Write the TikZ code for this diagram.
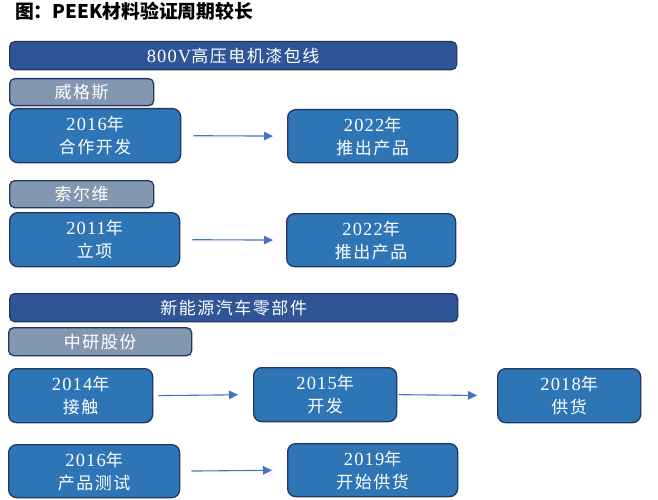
\documentclass[tikz,border=0pt]{standalone}
\usepackage{fontspec}
\setmainfont{Liberation Serif}
\newfontfamily\latf[LetterSpace=6]{Liberation Serif}
\newfontfamily\cjk[LetterSpace=9]{Noto Sans CJK SC}
\newfontfamily\cjktitle{Noto Sans CJK SC}
\usetikzlibrary{arrows.meta}
\definecolor{barblue}{HTML}{2F5597}
\definecolor{grayblue}{HTML}{8497B0}
\definecolor{boxblue}{HTML}{2E75B6}
\definecolor{edgeblue}{HTML}{1F3864}
\definecolor{arrowblue}{HTML}{4472C4}
\newcommand\lat[1]{{\latf\fontsize{18.5}{23}\selectfont #1}}
\tikzset{
  base/.style={draw=edgeblue, line width=1.3pt, text=white, anchor=north west,
    inner sep=0pt, align=center, font=\cjk\fontsize{17}{23}\selectfont},
  bar/.style={base, fill=barblue, rounded corners=5pt},
  tag/.style={base, fill=grayblue, rounded corners=5pt},
  stepbox/.style={base, fill=boxblue, rounded corners=8pt},
  flow/.style={draw=arrowblue, line width=1.1pt, -{Triangle[length=9pt,width=8.5pt]}},
}
\begin{document}
\begin{tikzpicture}[x=1pt,y=-1pt]
\fill[white] (0,0) rectangle (658,500);
\useasboundingbox (0,0) rectangle (658,500);
\node[anchor=west, inner sep=0pt, font=\cjktitle\bfseries\fontsize{18.8}{22}\selectfont] (title) at (15,11) {图：PEEK材料验证周期较长};
% group 1
\node[bar, minimum width=447pt, minimum height=28pt] (bar1) at (9,41) {\lat{800V}高压电机漆包线};
\node[tag, minimum width=144pt, minimum height=27pt] (wgs) at (9,78) {威格斯};
\node[stepbox, minimum width=171pt, minimum height=54pt] (a1) at (9,108) {\lat{2016}年\\合作开发};
\node[stepbox, minimum width=170pt, minimum height=53pt] (a2) at (287,109) {\lat{2022}年\\推出产品};
\node[tag, minimum width=144pt, minimum height=27pt] (sew) at (9,180) {索尔维};
\node[stepbox, minimum width=170pt, minimum height=54pt] (b1) at (9,212) {\lat{2011}年\\立项};
\node[stepbox, minimum width=169pt, minimum height=53pt] (b2) at (286,213) {\lat{2022}年\\推出产品};
% group 2
\node[bar, minimum width=448pt, minimum height=28pt] (bar2) at (9,293) {新能源汽车零部件};
\node[tag, minimum width=183pt, minimum height=28pt] (zy) at (8,327) {中研股份};
\node[stepbox, minimum width=144pt, minimum height=54pt] (c1) at (8,368) {\lat{2014}年\\接触};
\node[stepbox, minimum width=143pt, minimum height=54pt] (c2) at (253,367) {\lat{2015}年\\开发};
\node[stepbox, minimum width=143pt, minimum height=54pt] (c3) at (497,368) {\lat{2018}年\\供货};
\node[stepbox, minimum width=171pt, minimum height=53pt] (d1) at (8,444) {\lat{2016}年\\产品测试};
\node[stepbox, minimum width=170pt, minimum height=53pt] (d2) at (287,443) {\lat{2019}年\\开始供货};
% arrows
\draw[flow, shorten <=12pt, shorten >=14pt] (a1.east) -- (a2.west);
\draw[flow, shorten <=12pt, shorten >=13pt] (b1.east) -- (b2.west);
\draw[flow, shorten <=5pt, shorten >=15pt] (c1.east) -- (c2.west);
\draw[flow, shorten <=1pt, shorten >=20pt] (c2.east) -- (c3.west);
\draw[flow, shorten <=11pt, shorten >=15pt] (d1.east) -- (d2.west);
\end{tikzpicture}
\end{document}
